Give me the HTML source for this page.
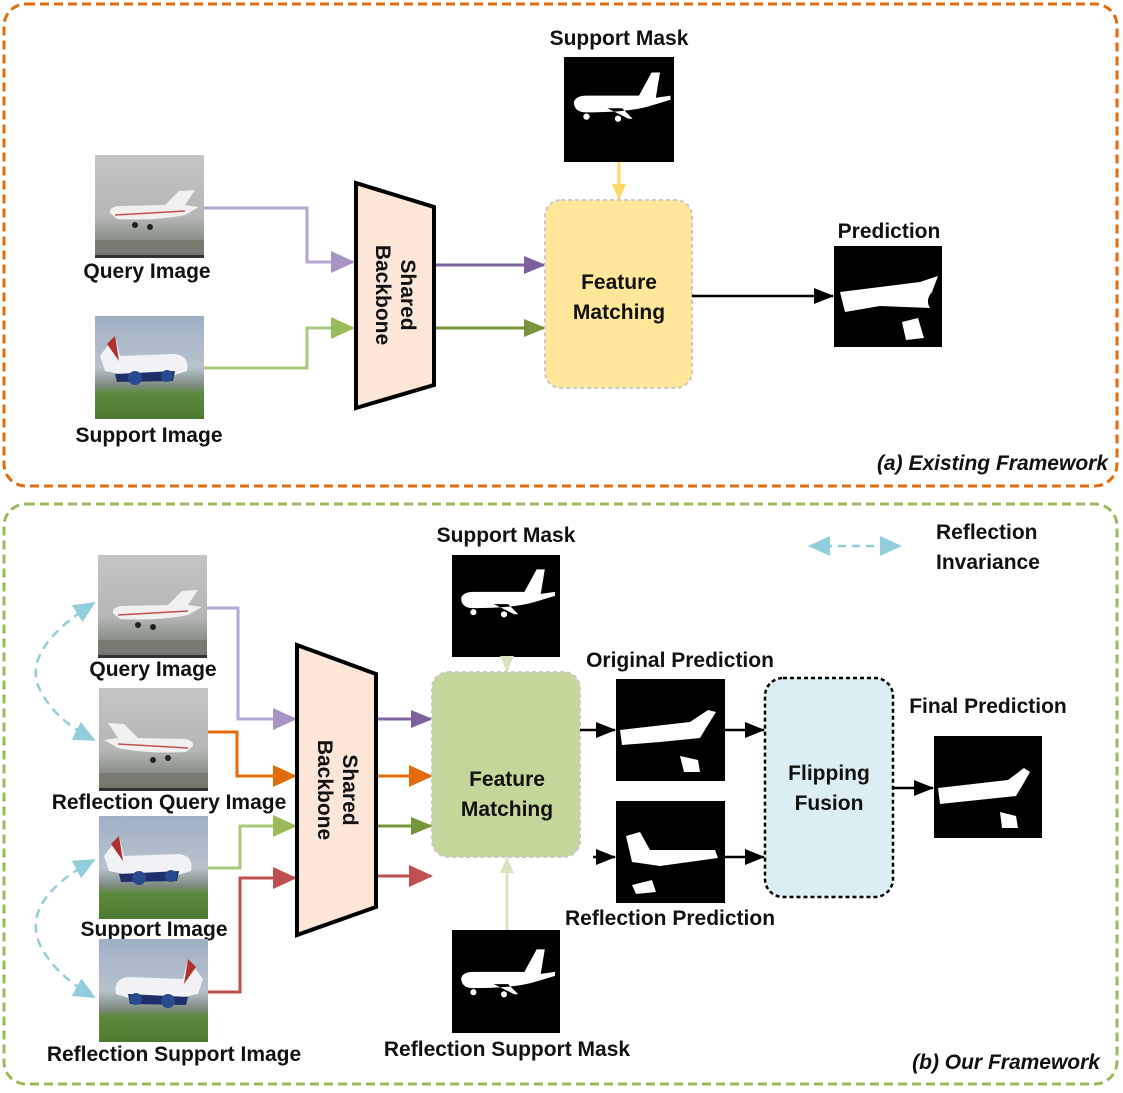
<!DOCTYPE html>
<html><head><meta charset="utf-8"><style>
html,body{margin:0;padding:0;background:#fff}
svg text{font-family:"Liberation Sans",sans-serif;font-weight:bold;font-size:21px;fill:#111}
</style></head><body>
<svg width="1123" height="1088" viewBox="0 0 1123 1088" xmlns="http://www.w3.org/2000/svg">
<defs>
<linearGradient id="qg" x1="0" y1="0" x2="0" y2="1"><stop offset="0" stop-color="#c4c4c4"/><stop offset="0.6" stop-color="#b5b7b4"/><stop offset="0.8" stop-color="#8e938c"/><stop offset="1" stop-color="#6d6f66"/></linearGradient>
<linearGradient id="sg" x1="0" y1="0" x2="0" y2="1"><stop offset="0" stop-color="#9fb0c4"/><stop offset="0.5" stop-color="#b8c2cc"/><stop offset="0.68" stop-color="#7c8a7e"/><stop offset="0.75" stop-color="#5c8a3c"/><stop offset="1" stop-color="#4d7a30"/></linearGradient>
<marker id="aP" markerWidth="24" markerHeight="24" refX="22" refY="12" orient="auto" markerUnits="userSpaceOnUse" viewBox="0 0 24 24"><path d="M0,1L24,12L0,23z" fill="#a993c3"/></marker>
<marker id="aPd" markerWidth="22" markerHeight="22" refX="20" refY="11" orient="auto" markerUnits="userSpaceOnUse" viewBox="0 0 22 22"><path d="M0,2L22,11L0,20z" fill="#7c619f"/></marker>
<marker id="aG" markerWidth="24" markerHeight="24" refX="22" refY="12" orient="auto" markerUnits="userSpaceOnUse" viewBox="0 0 24 24"><path d="M0,1L24,12L0,23z" fill="#9bbb59"/></marker>
<marker id="aGd" markerWidth="22" markerHeight="22" refX="20" refY="11" orient="auto" markerUnits="userSpaceOnUse" viewBox="0 0 22 22"><path d="M0,2L22,11L0,20z" fill="#77933c"/></marker>
<marker id="aO" markerWidth="24" markerHeight="24" refX="22" refY="12" orient="auto" markerUnits="userSpaceOnUse" viewBox="0 0 24 24"><path d="M0,1L24,12L0,23z" fill="#e46c0a"/></marker>
<marker id="aR" markerWidth="24" markerHeight="24" refX="22" refY="12" orient="auto" markerUnits="userSpaceOnUse" viewBox="0 0 24 24"><path d="M0,1L24,12L0,23z" fill="#c0504d"/></marker>
<marker id="aK" markerWidth="20" markerHeight="18" refX="19" refY="9" orient="auto" markerUnits="userSpaceOnUse" viewBox="0 0 20 18"><path d="M0,1L20,9L0,17z" fill="#000"/></marker>
<marker id="aY" markerWidth="16" markerHeight="16" refX="15" refY="8" orient="auto" markerUnits="userSpaceOnUse" viewBox="0 0 16 16"><path d="M0,1L16,8L0,15z" fill="#ffd966"/></marker>
<marker id="aL" markerWidth="16" markerHeight="16" refX="15" refY="8" orient="auto" markerUnits="userSpaceOnUse" viewBox="0 0 16 16"><path d="M0,1L16,8L0,15z" fill="#d7e4bd"/></marker>
<marker id="aB" markerWidth="22" markerHeight="20" refX="20" refY="10" orient="auto-start-reverse" markerUnits="userSpaceOnUse" viewBox="0 0 22 20"><path d="M0,0L22,10L0,20z" fill="#92cddc"/></marker>
<g id="plane"><path d="M-42,-2 Q-40,-8 -30,-8 L20,-8 L32,-30 L40,-30 L36,-6 L50,-8 L50,-4 L30,2 Q10,8 -30,8 Q-42,8 -42,-2z M-10,4 L10,14 L14,14 L4,4z" fill="#fff"/><circle cx="-30" cy="12" r="3" fill="#fff"/><circle cx="0" cy="14" r="3" fill="#fff"/></g>
<g id="photoQ"><rect width="109" height="103" fill="url(#qg)"/><path d="M15,58 Q14,52 24,51 L70,50 L84,36 L100,35 L90,50 L104,52 L90,60 Q60,66 22,64z" fill="#f2f0ee"/><path d="M20,60 L90,56" stroke="#c05050" stroke-width="1.5"/><circle cx="40" cy="70" r="3" fill="#222"/><circle cx="55" cy="72" r="3" fill="#222"/><rect x="0" y="85" width="109" height="10" fill="#787a70"/><rect x="0" y="100" width="109" height="3" fill="#333"/></g>
<g id="photoS"><rect width="109" height="103" fill="url(#sg)"/><path d="M5,40 L20,20 L25,40 L80,38 Q95,40 92,55 L60,65 L10,55z" fill="#f0f2f5"/><path d="M12,28 L20,20 L24,45 Z" fill="#b03030"/><path d="M20,58 L80,55 L78,65 L22,66z" fill="#1f2f6a"/><circle cx="40" cy="62" r="7" fill="#2a4a90"/><circle cx="72" cy="60" r="6" fill="#2a4a90"/></g>
</defs>

<rect x="4" y="4" width="1113" height="482" rx="22" fill="none" stroke="#e46c0a" stroke-width="3" stroke-dasharray="9,5"/>
<rect x="4" y="504" width="1113" height="580" rx="22" fill="none" stroke="#9bbb59" stroke-width="3" stroke-dasharray="9,5"/>

<!-- TOP -->
<use href="#photoQ" x="95" y="155"/>
<text x="147" y="278" text-anchor="middle">Query Image</text>
<use href="#photoS" x="95" y="316"/>
<text x="149" y="442" text-anchor="middle">Support Image</text>

<polyline points="204,208 307,208 307,262 353,262" fill="none" stroke="#b4a7d6" stroke-width="3" marker-end="url(#aP)"/>
<polyline points="204,368 307,368 307,328 353,328" fill="none" stroke="#a9c97a" stroke-width="3" marker-end="url(#aG)"/>
<polygon points="356,183 434,207 434,385 356,408" fill="#fbe6d8" stroke="#000" stroke-width="4"/>
<text transform="translate(395,295) rotate(90)" text-anchor="middle" font-size="22"><tspan x="0" dy="-6">Shared</tspan><tspan x="0" dy="25">Backbone</tspan></text>

<line x1="436" y1="265" x2="544" y2="265" stroke="#8064a2" stroke-width="3" marker-end="url(#aPd)"/>
<line x1="436" y1="328" x2="544" y2="328" stroke="#77933c" stroke-width="3" marker-end="url(#aGd)"/>

<rect x="545" y="200" width="147" height="188" rx="16" fill="#ffe699" stroke="#c9c9c9" stroke-width="2" stroke-dasharray="4,3"/>
<text x="619" y="289" text-anchor="middle" font-size="22">Feature</text>
<text x="619" y="319" text-anchor="middle" font-size="22">Matching</text>

<text x="619" y="45" text-anchor="middle">Support Mask</text>
<rect x="564" y="57" width="110" height="105" fill="#000"/>
<use href="#plane" transform="translate(618,104) scale(1.05)"/>
<line x1="619" y1="162" x2="619" y2="199" stroke="#ffd966" stroke-width="3" marker-end="url(#aY)"/>

<line x1="692" y1="296" x2="833" y2="296" stroke="#000" stroke-width="2.5" marker-end="url(#aK)"/>
<text x="889" y="238" text-anchor="middle">Prediction</text>
<rect x="834" y="246" width="108" height="101" fill="#000"/>
<path d="M840,292 L920,282 L938,276 L932,292 Q925,300 930,308 L880,306 L845,312z M902,322 L918,318 L924,338 L906,340z" fill="#fff"/>

<text x="1108" y="470" text-anchor="end" font-style="italic" font-size="20">(a) Existing Framework</text>

<!-- BOTTOM -->
<use href="#photoQ" x="98" y="555"/>
<text x="153" y="676" text-anchor="middle">Query Image</text>
<use href="#photoQ" transform="translate(208,688) scale(-1,1)"/>
<text x="169" y="809" text-anchor="middle">Reflection Query Image</text>
<use href="#photoS" x="99" y="816"/>
<text x="154" y="936" text-anchor="middle">Support Image</text>
<use href="#photoS" transform="translate(208,939) scale(-1,1)"/>
<text x="174" y="1061" text-anchor="middle">Reflection Support Image</text>

<path d="M94,603 Q20,650 40,690 Q55,720 94,740" fill="none" stroke="#92cddc" stroke-width="2.5" stroke-dasharray="9,6" marker-start="url(#aB)" marker-end="url(#aB)"/>
<path d="M94,860 Q20,900 40,945 Q55,975 94,997" fill="none" stroke="#92cddc" stroke-width="2.5" stroke-dasharray="9,6" marker-start="url(#aB)" marker-end="url(#aB)"/>

<polyline points="207,608 238,608 238,719 295,719" fill="none" stroke="#b4a7d6" stroke-width="3" marker-end="url(#aP)"/>
<polyline points="208,732 237,732 237,776 295,776" fill="none" stroke="#e46c0a" stroke-width="3" marker-end="url(#aO)"/>
<polyline points="208,868 240,868 240,826 295,826" fill="none" stroke="#a9c97a" stroke-width="3" marker-end="url(#aG)"/>
<polyline points="208,992 240,992 240,878 295,878" fill="none" stroke="#c0504d" stroke-width="3" marker-end="url(#aR)"/>

<polygon points="297,645 376,674 376,907 297,935" fill="#fbe6d8" stroke="#000" stroke-width="4"/>
<text transform="translate(337,790) rotate(90)" text-anchor="middle" font-size="22"><tspan x="0" dy="-6">Shared</tspan><tspan x="0" dy="25">Backbone</tspan></text>

<line x1="378" y1="719" x2="431" y2="719" stroke="#8064a2" stroke-width="3" marker-end="url(#aPd)"/>
<line x1="378" y1="776" x2="431" y2="776" stroke="#e46c0a" stroke-width="3" marker-end="url(#aO)"/>
<line x1="378" y1="826" x2="431" y2="826" stroke="#77933c" stroke-width="3" marker-end="url(#aGd)"/>
<line x1="378" y1="876" x2="431" y2="876" stroke="#c0504d" stroke-width="3" marker-end="url(#aR)"/>

<rect x="432" y="672" width="148" height="185" rx="16" fill="#c4d79b" stroke="#c9c9c9" stroke-width="2" stroke-dasharray="4,3"/>
<text x="507" y="786" text-anchor="middle" font-size="22">Feature</text>
<text x="507" y="816" text-anchor="middle" font-size="22">Matching</text>

<text x="506" y="542" text-anchor="middle">Support Mask</text>
<rect x="452" y="555" width="108" height="102" fill="#000"/>
<use href="#plane" transform="translate(504,600) scale(1.02)"/>
<line x1="507" y1="657" x2="507" y2="671" stroke="#d7e4bd" stroke-width="3" marker-end="url(#aL)"/>

<rect x="452" y="930" width="108" height="103" fill="#000"/>
<use href="#plane" transform="translate(504,980) scale(1.02)"/>
<line x1="507" y1="930" x2="507" y2="858" stroke="#d7e4bd" stroke-width="3" marker-end="url(#aL)"/>
<text x="507" y="1056" text-anchor="middle">Reflection Support Mask</text>

<text x="680" y="667" text-anchor="middle">Original Prediction</text>
<rect x="616" y="679" width="109" height="102" fill="#000"/>
<path d="M620,730 L690,722 L708,710 L716,712 L706,728 L700,738 L660,742 L622,745z M680,756 L698,760 L700,772 L684,772z" fill="#fff"/>
<rect x="616" y="801" width="109" height="102" fill="#000"/>
<path d="M626,836 L640,832 L650,850 L715,850 L718,858 L660,866 L632,862z M632,885 L652,880 L656,892 L636,894z" fill="#fff"/>
<text x="670" y="925" text-anchor="middle">Reflection Prediction</text>

<line x1="580" y1="730" x2="615" y2="730" stroke="#000" stroke-width="2.5" marker-end="url(#aK)"/>
<line x1="593" y1="857" x2="615" y2="857" stroke="#000" stroke-width="2.5" marker-end="url(#aK)"/>
<line x1="725" y1="730" x2="764" y2="730" stroke="#000" stroke-width="2.5" marker-end="url(#aK)"/>
<line x1="725" y1="857" x2="764" y2="857" stroke="#000" stroke-width="2.5" marker-end="url(#aK)"/>

<rect x="765" y="678" width="128" height="219" rx="18" fill="#daeef3" stroke="#000" stroke-width="2.5" stroke-dasharray="4,3"/>
<text x="829" y="780" text-anchor="middle" font-size="22">Flipping</text>
<text x="829" y="810" text-anchor="middle" font-size="22">Fusion</text>

<line x1="893" y1="788" x2="933" y2="788" stroke="#000" stroke-width="2.5" marker-end="url(#aK)"/>
<text x="988" y="713" text-anchor="middle">Final Prediction</text>
<rect x="934" y="736" width="108" height="102" fill="#000"/>
<path d="M938,788 L1008,780 L1024,768 L1030,772 L1022,786 L1016,796 L978,800 L940,804z M1000,812 L1016,816 L1018,828 L1002,828z" fill="#fff"/>

<line x1="810" y1="546" x2="900" y2="546" stroke="#92cddc" stroke-width="2.5" stroke-dasharray="8,6" marker-start="url(#aB)" marker-end="url(#aB)"/>
<text x="936" y="539">Reflection</text>
<text x="936" y="569">Invariance</text>

<text x="1100" y="1069" text-anchor="end" font-style="italic" font-size="20">(b) Our Framework</text>
</svg>
</body></html>
